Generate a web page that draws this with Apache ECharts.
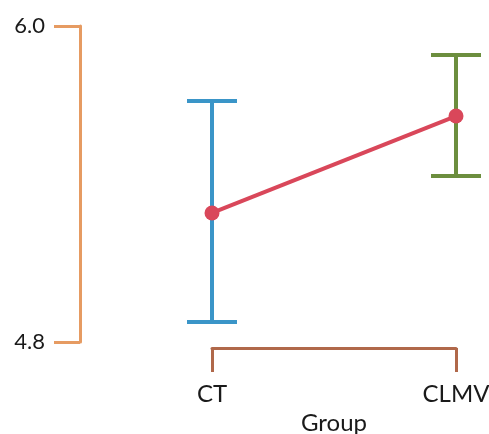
<!DOCTYPE html>
<html>
<head>
<meta charset="utf-8">
<script src="https://cdn.jsdelivr.net/npm/echarts@6/dist/echarts.min.js"></script>
<style>html,body{margin:0;padding:0;background:#fff;}#c{width:489px;height:434px;}</style>
</head>
<body>
<div id="c"></div>
<script>
const categories = ['CT', 'CLMV'];
const means = [5.29, 5.658];
const lowers = [4.876, 5.43];
const uppers = [5.715, 5.89];
const barColors = ['#3A95C8', '#6C8E3E'];
const yTicks = [4.8, 6.0];

const chart = echarts.init(document.getElementById('c'), null, {renderer: 'canvas'});
const errData = categories.map((c, i) => [i, lowers[i], uppers[i]]);
chart.setOption({
  animation: false,
  grid: {left: 212, right: 33, top: 26, bottom: 92, containLabel: false, outerBoundsMode: 'none'},
  xAxis: {
    type: 'category', data: categories, boundaryGap: false, offset: 6,
    axisLine: {lineStyle: {color: '#B0684A', width: 3}},
    axisTick: {show: true, length: 24, lineStyle: {color: '#B0684A', width: 3}},
    axisLabel: {margin: 34, fontFamily: 'Lato', fontSize: 24, color: '#1a1a1a'},
    name: 'Group', nameLocation: 'middle', nameGap: 63,
    nameTextStyle: {fontFamily: 'Lato', fontSize: 24, color: '#1a1a1a'}
  },
  yAxis: {
    type: 'value', min: yTicks[0], max: yTicks[1], interval: 1.2, offset: 132,
    axisLine: {show: true, lineStyle: {color: '#E69B62', width: 3}},
    axisTick: {show: true, length: 26, lineStyle: {color: '#E69B62', width: 3}},
    splitLine: {show: false},
    axisLabel: {margin: 35, fontFamily: 'Lato', fontSize: 22, color: '#1a1a1a',
      formatter: v => v.toFixed(1)}
  },
  series: [
    {
      type: 'custom', data: errData, z: 2,
      renderItem: function (params, api) {
        const x = api.value(0);
        const lo = api.coord([x, api.value(1)]);
        const hi = api.coord([x, api.value(2)]);
        const hw = 25;
        const col = barColors[params.dataIndex];
        const style = {stroke: col, lineWidth: 4};
        return {type: 'group', children: [
          {type: 'line', shape: {x1: lo[0], y1: lo[1], x2: hi[0], y2: hi[1]}, style},
          {type: 'line', shape: {x1: lo[0] - hw, y1: lo[1], x2: lo[0] + hw, y2: lo[1]}, style},
          {type: 'line', shape: {x1: hi[0] - hw, y1: hi[1], x2: hi[0] + hw, y2: hi[1]}, style}
        ]};
      }
    },
    {
      type: 'line', data: means, z: 5,
      symbol: 'circle', symbolSize: 15,
      lineStyle: {color: '#D9475A', width: 4},
      itemStyle: {color: '#D9475A'}
    }
  ]
});
</script>
</body>
</html>
